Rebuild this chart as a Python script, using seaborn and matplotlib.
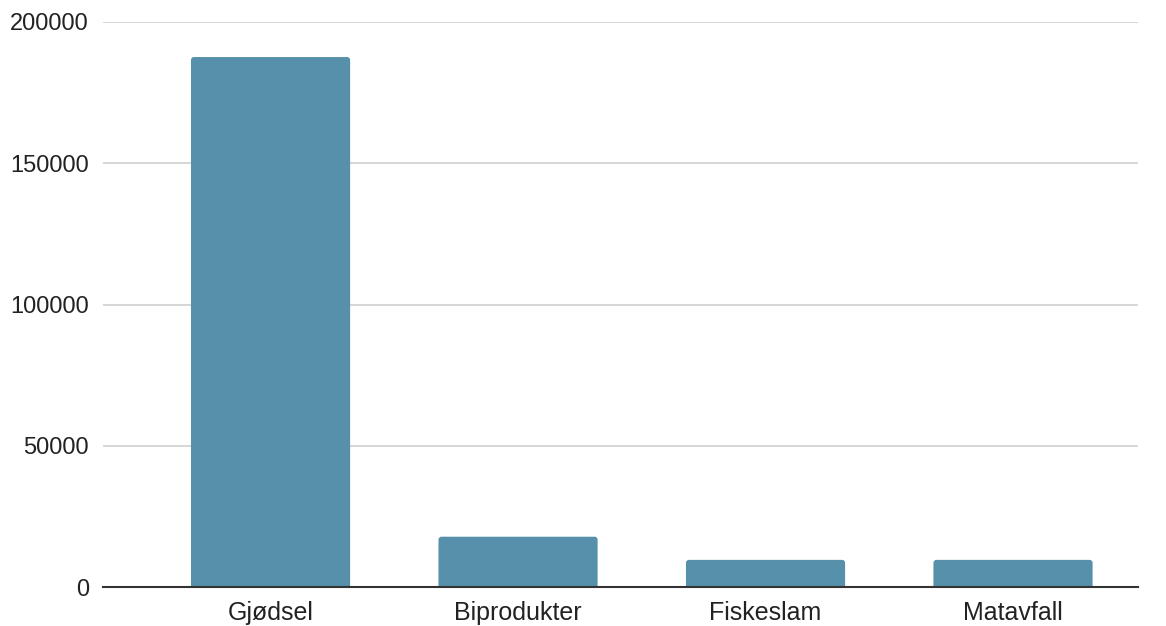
import matplotlib
matplotlib.use("Agg")
import matplotlib.pyplot as plt
import seaborn as sns
import pandas as pd
from matplotlib.patches import FancyBboxPatch

categories = ["Gjødsel", "Biprodukter", "Fiskeslam", "Matavfall"]
values = [187600, 17800, 9600, 9600]
yticks = [0, 50000, 100000, 150000, 200000]

df = pd.DataFrame({"kategori": categories, "verdi": values})

sns.set_theme(style="white")
plt.rcParams["font.family"] = ["Liberation Sans", "DejaVu Sans"]

W, H = 1166, 626
fig = plt.figure(figsize=(W / 100, H / 100), dpi=100)
ax = fig.add_axes([103 / W, 1 - 587 / H, (1138 - 103) / W, (587 - 22) / H])

bar_color = "#5790ab"
sns.barplot(data=df, x="kategori", y="verdi", color=bar_color, width=0.643,
            ax=ax, saturation=1, zorder=3)

ax.set_xlim(-0.677, 3.505)
ax.set_ylim(0, 200000)

# replace bars with rounded-top versions
px_x = (3.505 + 0.677) / (1138 - 103)
px_y = 200000 / (587 - 22)
r = 3 * px_x
patches = list(ax.patches)
for p in patches:
    x, y = p.get_x(), p.get_y()
    w, h = p.get_width(), p.get_height()
    ext = 4 * px_y
    fb = FancyBboxPatch((x, y - ext), w, h + ext,
                        boxstyle=f"round,pad=0,rounding_size={r}",
                        mutation_aspect=px_y / px_x,
                        facecolor=bar_color, edgecolor="none", zorder=3)
    p.remove()
    ax.add_patch(fb)

ax.set_yticks(yticks)
ax.set_yticklabels([str(v) for v in yticks])
ax.yaxis.grid(True, color="#cccccc", linewidth=1.1, zorder=0)
ax.set_axisbelow(True)
ax.tick_params(axis="y", length=0, pad=10, labelsize=17, labelcolor="#222222")
ax.tick_params(axis="x", length=0, pad=10, labelsize=18, labelcolor="#222222")
ax.set_xlabel("")
ax.set_ylabel("")

for s in ["top", "right", "left"]:
    ax.spines[s].set_visible(False)
ax.spines["bottom"].set_color("#333333")
ax.spines["bottom"].set_linewidth(1.5)
ax.spines["bottom"].set_zorder(5)

fig.savefig("out.png", dpi=100, facecolor="white")
